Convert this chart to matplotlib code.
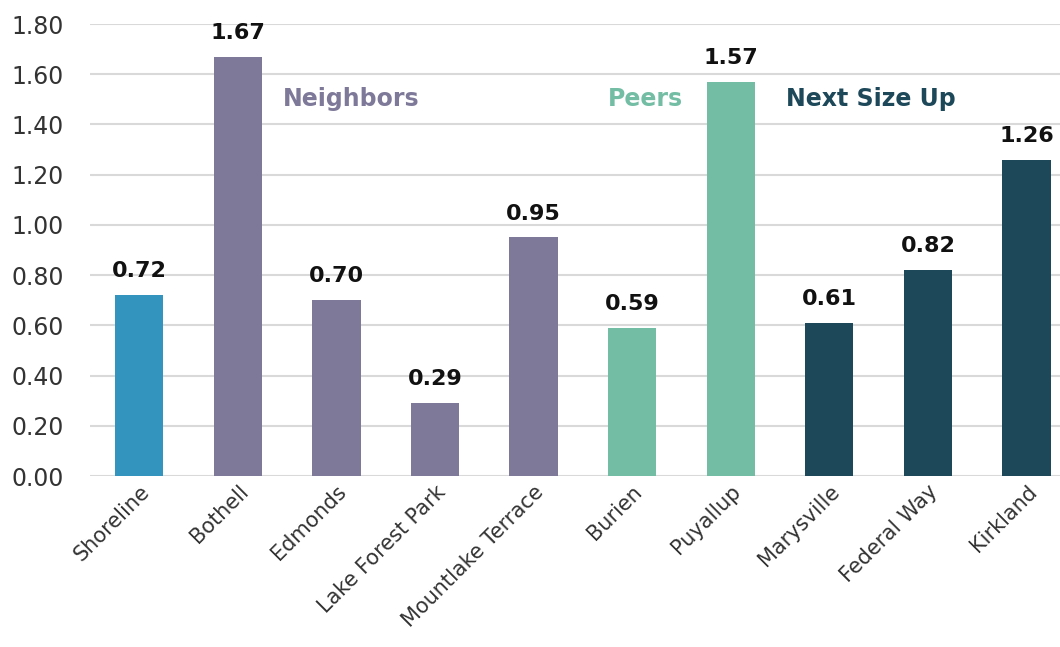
import matplotlib
matplotlib.use('Agg')
import matplotlib.pyplot as plt

cities = ['Shoreline', 'Bothell', 'Edmonds', 'Lake Forest Park',
          'Mountlake Terrace', 'Burien', 'Puyallup', 'Marysville',
          'Federal Way', 'Kirkland']
values = [0.72, 1.67, 0.70, 0.29, 0.95, 0.59, 1.57, 0.61, 0.82, 1.26]
groups = ['Home', 'Neighbors', 'Neighbors', 'Neighbors', 'Neighbors',
          'Peers', 'Peers', 'Next Size Up', 'Next Size Up', 'Next Size Up']

group_colors = {
    'Home': '#3394BD',
    'Neighbors': '#7E7999',
    'Peers': '#74BDA5',
    'Next Size Up': '#1D4859',
}
# (label, x position in category units, y value)
group_labels = [('Neighbors', 2.15, 1.50),
                ('Peers', 5.13, 1.50),
                ('Next Size Up', 7.42, 1.50)]

plt.rcParams['font.family'] = ['DejaVu Sans']

fig = plt.figure(figsize=(10.6, 6.47), dpi=100)
ax = fig.add_axes([90 / 1060, 1 - 476 / 647, 1 - 90 / 1060, 452 / 647])

x = list(range(len(cities)))
colors = [group_colors[g] for g in groups]
ax.bar(x, values, width=0.49, color=colors, zorder=3)

for xi, v in zip(x, values):
    ax.annotate('{0:.2f}'.format(v), (xi, v), xytext=(0, 10),
                textcoords='offset points', ha='center', va='bottom',
                fontsize=16, fontweight='bold', color='#111111',
                annotation_clip=False)

for name, gx, gy in group_labels:
    ax.text(gx, gy, name, ha='center', va='center', fontsize=17,
            fontweight='bold', color=group_colors[name])

ax.set_xlim(-0.5, 9.34)
ax.set_ylim(0, 1.8)
ax.set_yticks([i * 0.2 for i in range(10)])
ax.set_yticklabels(['{0:.2f}'.format(i * 0.2) for i in range(10)])
ax.yaxis.grid(True, color='#D9D9D9', linewidth=1.5, zorder=0)
ax.set_axisbelow(True)
for s in ax.spines.values():
    s.set_visible(False)
ax.tick_params(axis='y', length=0, labelsize=17, labelcolor='#333333', pad=19)
ax.tick_params(axis='x', length=0, labelsize=15, labelcolor='#333333', pad=4)
ax.set_xticks(x)
ax.set_xticklabels(cities, rotation=45, ha='right', rotation_mode='anchor')

fig.savefig('out.png', dpi=100)
